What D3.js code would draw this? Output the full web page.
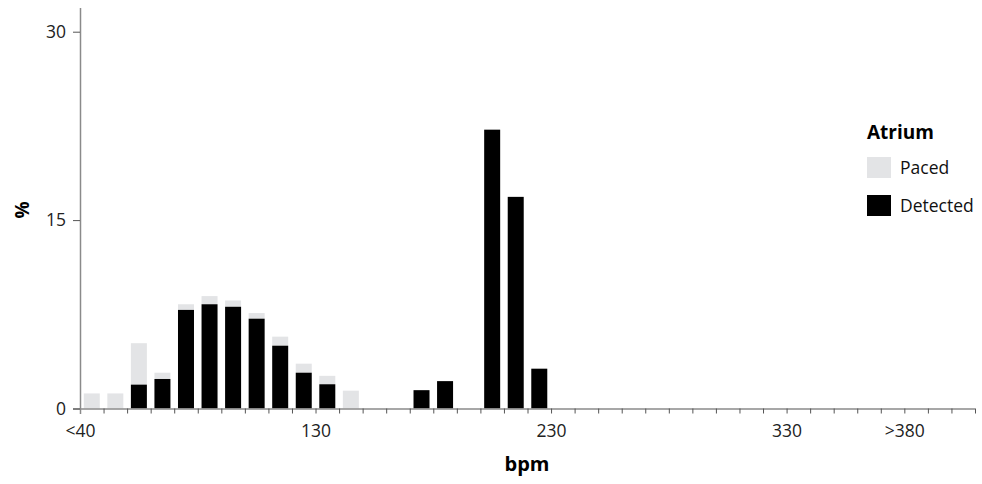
<!DOCTYPE html>
<html><head><meta charset="utf-8">
<script src="https://cdn.jsdelivr.net/npm/d3@7"></script>
<style>
body{margin:0;background:#fff;}
svg{display:block;font-family:"Open Sans",sans-serif;}
</style></head>
<body><svg id="chart" width="982" height="484"></svg>
<script>
// bin start values (bpm), 10 bpm bins; first bin is "<40"
const bins = d3.range(30, 410, 10);
// % detected (black)
const detected = [0,0,1.9,2.35,7.85,8.3,8.1,7.15,5.0,2.85,1.93,0,0,0,1.46,2.18,0,22.2,16.85,3.17,0,0,0,0,0,0,0,0,0,0,0,0,0,0,0,0,0,0];
// % paced (light grey, stacked above detected)
const paced =    [1.2,1.2,3.3,0.5,0.45,0.65,0.5,0.45,0.72,0.72,0.67,1.42,0,0,0,0,0,0,0,0,0,0,0,0,0,0,0,0,0,0,0,0,0,0,0,0,0,0];
const yTicks = [0, 15, 30];
const xTickLabels = {30: "<40", 130: "130", 230: "230", 330: "330", 380: ">380"};
const seriesNames = ["Paced", "Detected"];
const colors = {Paced: "#e3e4e6", Detected: "#000000"};

const svg = d3.select("#chart");
const x = d3.scaleLinear().domain([30, 410]).range([80, 975]);
const y = d3.scaleLinear().domain([0, 30]).range([408.5, 31.7]);
const step = x(40) - x(30);
const barW = 16;

const g = svg.append("g");
// bars
bins.forEach((b, i) => {
  const x0 = x(b) + (step - barW) / 2;
  if (paced[i] > 0) {
    g.append("rect").attr("x", x0).attr("width", barW)
      .attr("y", y(detected[i] + paced[i]))
      .attr("height", y(detected[i]) - y(detected[i] + paced[i]))
      .attr("fill", colors.Paced);
  }
  if (detected[i] > 0) {
    g.append("rect").attr("x", x0).attr("width", barW)
      .attr("y", y(detected[i]))
      .attr("height", y(0) - y(detected[i]))
      .attr("fill", colors.Detected);
  }
});

// x axis
const xAxis = d3.axisBottom(x)
  .tickValues(d3.range(30, 420, 10))
  .tickSize(5).tickPadding(11)
  .tickFormat(d => xTickLabels[d] || "");
const xg = svg.append("g").attr("transform", `translate(0,${y(0)})`).call(xAxis);
xg.select(".domain").attr("d", `M73,0.5H975`).attr("stroke", "#8a8a8a").attr("stroke-width", 1.5);
xg.selectAll(".tick line").attr("stroke", "#555");
xg.selectAll(".tick text").attr("font-size", 17.5).attr("fill", "#222").attr("font-family", "Open Sans");

// y axis
const yAxis = d3.axisLeft(y).tickValues(yTicks).tickSize(7).tickPadding(7);
const yg = svg.append("g").attr("transform", `translate(80,0)`).call(yAxis);
yg.select(".domain").attr("d", `M0.5,8V414`).attr("stroke", "#8a8a8a").attr("stroke-width", 1.5);
yg.selectAll(".tick line").attr("stroke", "#555");
yg.selectAll(".tick text").attr("font-size", 17.5).attr("fill", "#222").attr("font-family", "Open Sans");

// axis titles
svg.append("text").attr("x", 527).attr("y", 471).attr("text-anchor", "middle")
  .attr("font-size", 20).attr("font-weight", "bold").attr("fill", "#000").text("bpm");
svg.append("text").attr("transform", "translate(29,210) rotate(-90)").attr("text-anchor", "middle")
  .attr("font-size", 19).attr("font-weight", "bold").attr("fill", "#000").text("%");

// legend
const lg = svg.append("g").attr("transform", "translate(867,0)");
lg.append("text").attr("x", 0).attr("y", 139).attr("font-size", 19).attr("font-weight", "bold").text("Atrium");
seriesNames.forEach((s, i) => {
  const yy = 157 + i * 38;
  lg.append("rect").attr("x", 0).attr("y", yy).attr("width", 24).attr("height", 21).attr("fill", colors[s]);
  lg.append("text").attr("x", 33).attr("y", yy + 17).attr("font-size", 17.5).attr("fill", "#111").text(s);
});
</script>
</body></html>
